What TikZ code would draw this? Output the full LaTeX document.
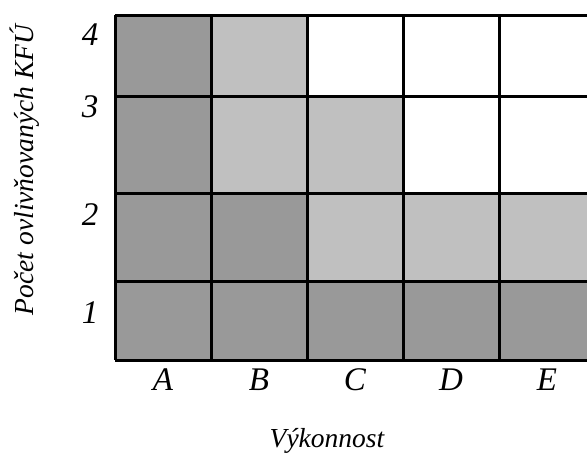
\documentclass[tikz,border=0pt]{standalone}
\usepackage{fontspec}
\setmainfont{Liberation Serif}
\usepackage{tikz}
\usetikzlibrary{positioning}
\definecolor{darkcell}{RGB}{153,153,153}
\definecolor{lightcell}{RGB}{192,192,192}

\begin{document}
\begin{tikzpicture}[x=1pt,y=-1pt,
  tick/.style={anchor=base,font=\fontsize{33}{36}\selectfont\itshape},
  axis/.style={anchor=base,font=\fontsize{27.5}{30}\selectfont\itshape},
  gridline/.style={line width=3pt}
]
\useasboundingbox (0,0) rectangle (587,453);
\clip (0,0) rectangle (587,453);

% Dark cells
\fill[darkcell] (115,15) rectangle (211,360);
\fill[darkcell] (211,193) rectangle (307,360);
\fill[darkcell] (307,281) rectangle (595,360);

% Light cells
\fill[lightcell] (211,15) rectangle (307,193);
\fill[lightcell] (307,96) rectangle (403,281);
\fill[lightcell] (403,193) rectangle (595,281);

% Grid
\foreach \y in {15,96,193,281,360}
  \draw[gridline] (115,\y) -- (595,\y);
\foreach \x in {115,211,307,403,499}
  \draw[gridline] (\x,15) -- (\x,360);

% Row labels
\node[tick] (r4) at (90,45) {4};
\node[tick] (r3) at (90,117) {3};
\node[tick] (r2) at (90,225) {2};
\node[tick] (r1) at (90,323) {1};

% Column labels
\node[tick] (cA) at (163,390) {A};
\node[tick] (cB) at (259,390) {B};
\node[tick] (cC) at (355,390) {C};
\node[tick] (cD) at (451,390) {D};
\node[tick] (cE) at (547,390) {E};

% Axis titles
\node[axis] (xtitle) at (327,447) {Výkonnost};
\node[axis,rotate=90] (ytitle) at (33,170) {Počet ovlivňovaných KFÚ};
\end{tikzpicture}
\end{document}
